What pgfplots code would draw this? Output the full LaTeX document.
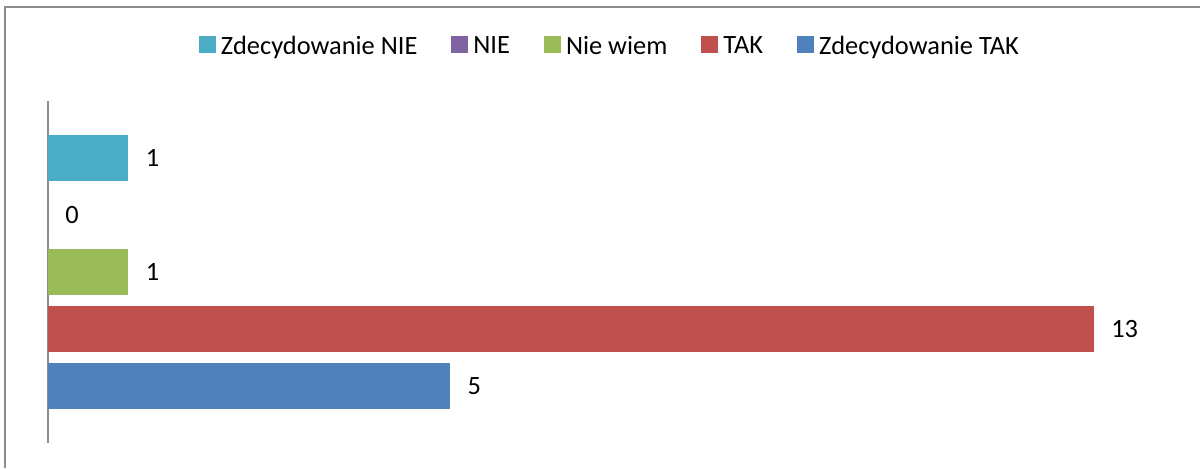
\documentclass[border=0pt]{standalone}
\usepackage{fontspec}
\setmainfont{Carlito}
\usepackage{pgfplots}
\pgfplotsset{compat=1.18}
\definecolor{cAqua}{HTML}{4BACC6}
\definecolor{cPurple}{HTML}{8064A2}
\definecolor{cGreen}{HTML}{9BBB59}
\definecolor{cRed}{HTML}{C0504D}
\definecolor{cBlue}{HTML}{4F81BD}
\begin{document}
\fontsize{13.2}{15}\selectfont
\begin{tikzpicture}
\path[use as bounding box] (0,0) rectangle (600pt,234pt);
\draw[color=black!45, line width=1pt] (2.5pt,0) -- (2.5pt,230.5pt) -- (600pt,230.5pt);
\begin{axis}[
    at={(24pt,12.5pt)}, anchor=south west,
    scale only axis,
    width=563.15pt, height=171pt,
    xmin=0, xmax=14, ymin=0, ymax=6,
    axis x line=none,
    axis y line*=left,
    axis line style={color=black!45, line width=0.75pt},
    xtick=\empty, ytick=\empty,
    xbar, bar shift=0pt, bar width=0.807,
    /pgf/number format/assume math mode=true,
    nodes near coords,
    every node near coord/.append style={anchor=west, inner xsep=0pt, xshift=8.5pt, font=\fontsize{13.2}{15}\selectfont, text=black},
    legend columns=5,
    legend style={draw=none, fill=none, at={(0.498,1.158)}, anchor=center,
        font=\fontsize{13.2}{15}\selectfont,
        /tikz/every even column/.append style={column sep=17pt},
        /tikz/every odd column/.append style={column sep=2.5pt},
        nodes={inner xsep=0pt}},
    legend image code/.code={\fill[#1] (0pt,-3pt) rectangle (8.5pt,5.5pt);},
]
\addplot[fill=cAqua, draw=none] coordinates {(1,5)};
\addplot[fill=cPurple, draw=none] coordinates {(0,4)};
\addplot[fill=cGreen, draw=none] coordinates {(1,3)};
\addplot[fill=cRed, draw=none] coordinates {(13,2)};
\addplot[fill=cBlue, draw=none] coordinates {(5,1)};
\legend{Zdecydowanie NIE, NIE, Nie wiem, TAK, Zdecydowanie TAK}
\end{axis}
\end{tikzpicture}
\end{document}
